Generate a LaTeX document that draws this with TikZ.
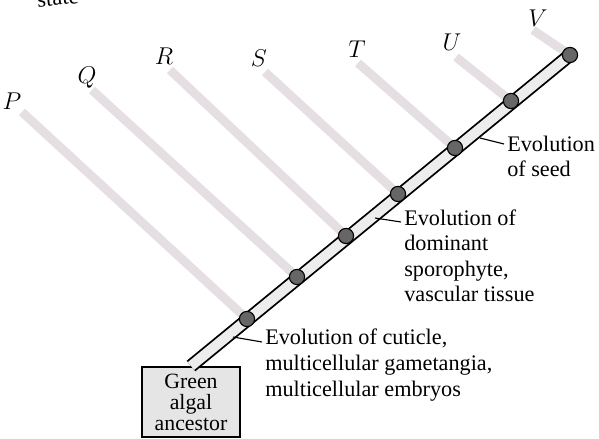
\documentclass[tikz,border=0pt]{standalone}
\usepackage{fontspec}
\setmainfont{Liberation Serif}
\usetikzlibrary{positioning}

\definecolor{branchgrey}{RGB}{229,223,227}

\begin{document}
\begin{tikzpicture}[
    x=0.025cm, y=-0.025cm,
    stem/.style={line width=1.3pt, double=black!7, double distance=0.25cm},
    branch/.style={line width=0.22cm, draw=branchgrey},
    knot/.style={circle, draw=black, thick, fill=black!60, minimum size=0.38cm, inner sep=0pt},
    taxon/.style={font=\fontsize{18}{18}\selectfont\itshape, inner sep=0pt},
    note/.style={align=left, font=\fontsize{15.8}{18.2}\selectfont, inner sep=0pt, anchor=base west},
    leader/.style={line width=0.8pt}
]
\useasboundingbox (0,0) rectangle (599,439);

% --- Rest der Seite oben ---
\node[anchor=base west, rotate=6, font=\fontsize{16}{16}\selectfont] (top) at (33,8) {state};

% --- Vorfahr ---
\node[draw, line width=1.4pt, fill=black!10, minimum width=2.45cm, minimum height=1.75cm,
      align=center, font=\fontsize{15.5}{15}\selectfont] (anc) at (191,402) {Green\\algal\\ancestor};

% --- Knoten auf dem Stamm ---
\foreach \n/\x/\y in {1/247/319, 2/297/277, 3/346/236, 4/398/194, 5/455/148, 6/511/101, 7/570/55}
    \coordinate (k\n) at (\x,\y);

% --- Äste mit Namen ---
\foreach \t/\lx/\ly/\tx/\ty/\n in {P/12/101/22/112/1, Q/87/78/92/90/2, R/164/56/170/70/3,
        S/259/58/265/72/4, T/357/49/358/63/5, U/452/42/456/57/6, V/538/18/533/30/7} {
    \node[taxon] (\t) at (\lx,\ly) {$\t$};
    \coordinate (tip\t) at (\tx,\ty);
    \draw[branch] (tip\t) -- (k\n);
}

% --- Stamm ---
\draw[stem] (anc.north) -- (k7);
\foreach \n in {1,...,7}
    \node[knot] (d\n) at (k\n) {};

% --- Beschriftungen (base = letzte Zeile) ---
\node[note] (cuticle) at (265,396) {Evolution of cuticle,\\multicellular gametangia,\\multicellular embryos};
\coordinate (c1) at (233,337);
\draw[leader] (c1) -- (262,342);

\node[note] (sporo) at (404,302) {Evolution of\\dominant\\sporophyte,\\vascular tissue};
\coordinate (c2) at (375,218);
\draw[leader] (c2) -- (401,222);

\node[note] (seed) at (507,177) {Evolution\\of seed};
\coordinate (c3) at (480,138);
\draw[leader] (c3) -- (504,144);

\end{tikzpicture}
\end{document}
